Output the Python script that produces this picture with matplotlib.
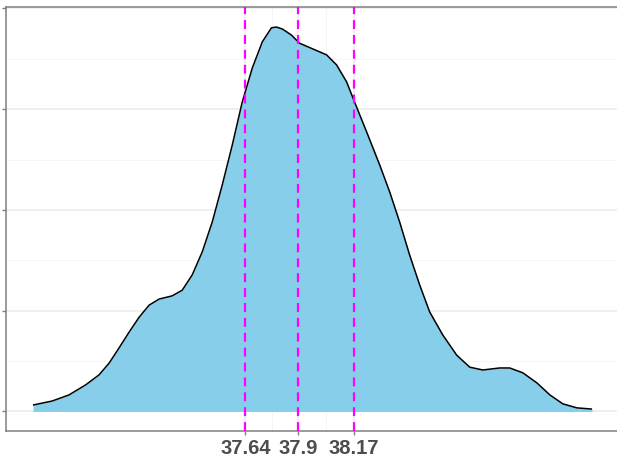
import matplotlib
matplotlib.use("Agg")
import matplotlib.pyplot as plt
from matplotlib.ticker import FixedLocator

# Density curve
dens_x = [36.600, 36.694, 36.776, 36.858, 36.924, 36.973, 37.022, 37.071, 37.120,
          37.169, 37.218, 37.282, 37.331, 37.380, 37.429, 37.478, 37.527, 37.576,
          37.625, 37.674, 37.723, 37.768, 37.792, 37.822, 37.866, 37.905, 37.969,
          38.038, 38.087, 38.136, 38.175, 38.234, 38.298, 38.347, 38.396, 38.445,
          38.494, 38.543, 38.607, 38.675, 38.739, 38.803, 38.886, 38.935, 38.999,
          39.068, 39.132, 39.195, 39.264, 39.338]
dens_y = [0.016, 0.026, 0.041, 0.066, 0.091, 0.120, 0.158, 0.197, 0.234,
          0.264, 0.279, 0.287, 0.301, 0.339, 0.396, 0.470, 0.562, 0.661,
          0.768, 0.852, 0.917, 0.952, 0.954, 0.949, 0.934, 0.914, 0.900,
          0.885, 0.860, 0.818, 0.768, 0.694, 0.612, 0.545, 0.470, 0.388,
          0.314, 0.247, 0.190, 0.140, 0.110, 0.103, 0.108, 0.108, 0.096,
          0.071, 0.041, 0.019, 0.009, 0.006]

# Quantile lines / x tick labels
vlines = [37.64, 37.9, 38.17]
xtick_labels = ["37.64", "37.9", "38.17"]
ymajor = [0, 0.25, 0.5, 0.75, 1.0]
yminor = [0.125, 0.375, 0.625, 0.875]

W, H = 617, 459
fig = plt.figure(figsize=(W / 100, H / 100), dpi=100)
left, right, top, bottom = 6, 620, 7, 431
ax = fig.add_axes([left / W, (H - bottom) / H, (right - left) / W, (bottom - top) / H])

ax.set_xlim(36.468, 39.475)
ax.set_ylim(-0.0484, 1.0037)

# grid
ax.xaxis.set_major_locator(FixedLocator(vlines))
ax.xaxis.set_minor_locator(FixedLocator([(vlines[0] + vlines[1]) / 2, (vlines[1] + vlines[2]) / 2]))
ax.yaxis.set_major_locator(FixedLocator(ymajor))
ax.yaxis.set_minor_locator(FixedLocator(yminor))
ax.grid(which="major", color="#EBEBEB", linewidth=1.1)
ax.grid(which="minor", color="#F4F4F4", linewidth=0.6)
ax.set_axisbelow(True)

ax.fill_between(dens_x, 0, dens_y, color="#87CEEB", linewidth=0, zorder=2)
ax.plot(dens_x, dens_y, color="black", linewidth=1.1, zorder=3,
        solid_joinstyle="round", solid_capstyle="butt")

for v in vlines:
    ax.axvline(v, color="#FF00FF", linewidth=1.6, dashes=(4, 2.7), zorder=4)

ax.set_xticklabels(xtick_labels, fontsize=14.5, fontweight="bold", color="#4D4D4D",
                   family=["Liberation Sans", "DejaVu Sans"])
ax.set_yticklabels([])
ax.tick_params(which="major", length=3, width=1, color="#7F7F7F", pad=2.5)
ax.tick_params(which="minor", length=0)

for s in ["left", "bottom", "top"]:
    ax.spines[s].set_color("#7F7F7F")
    ax.spines[s].set_linewidth(1.1)
ax.spines["right"].set_visible(False)

fig.savefig("out.png", dpi=100)
